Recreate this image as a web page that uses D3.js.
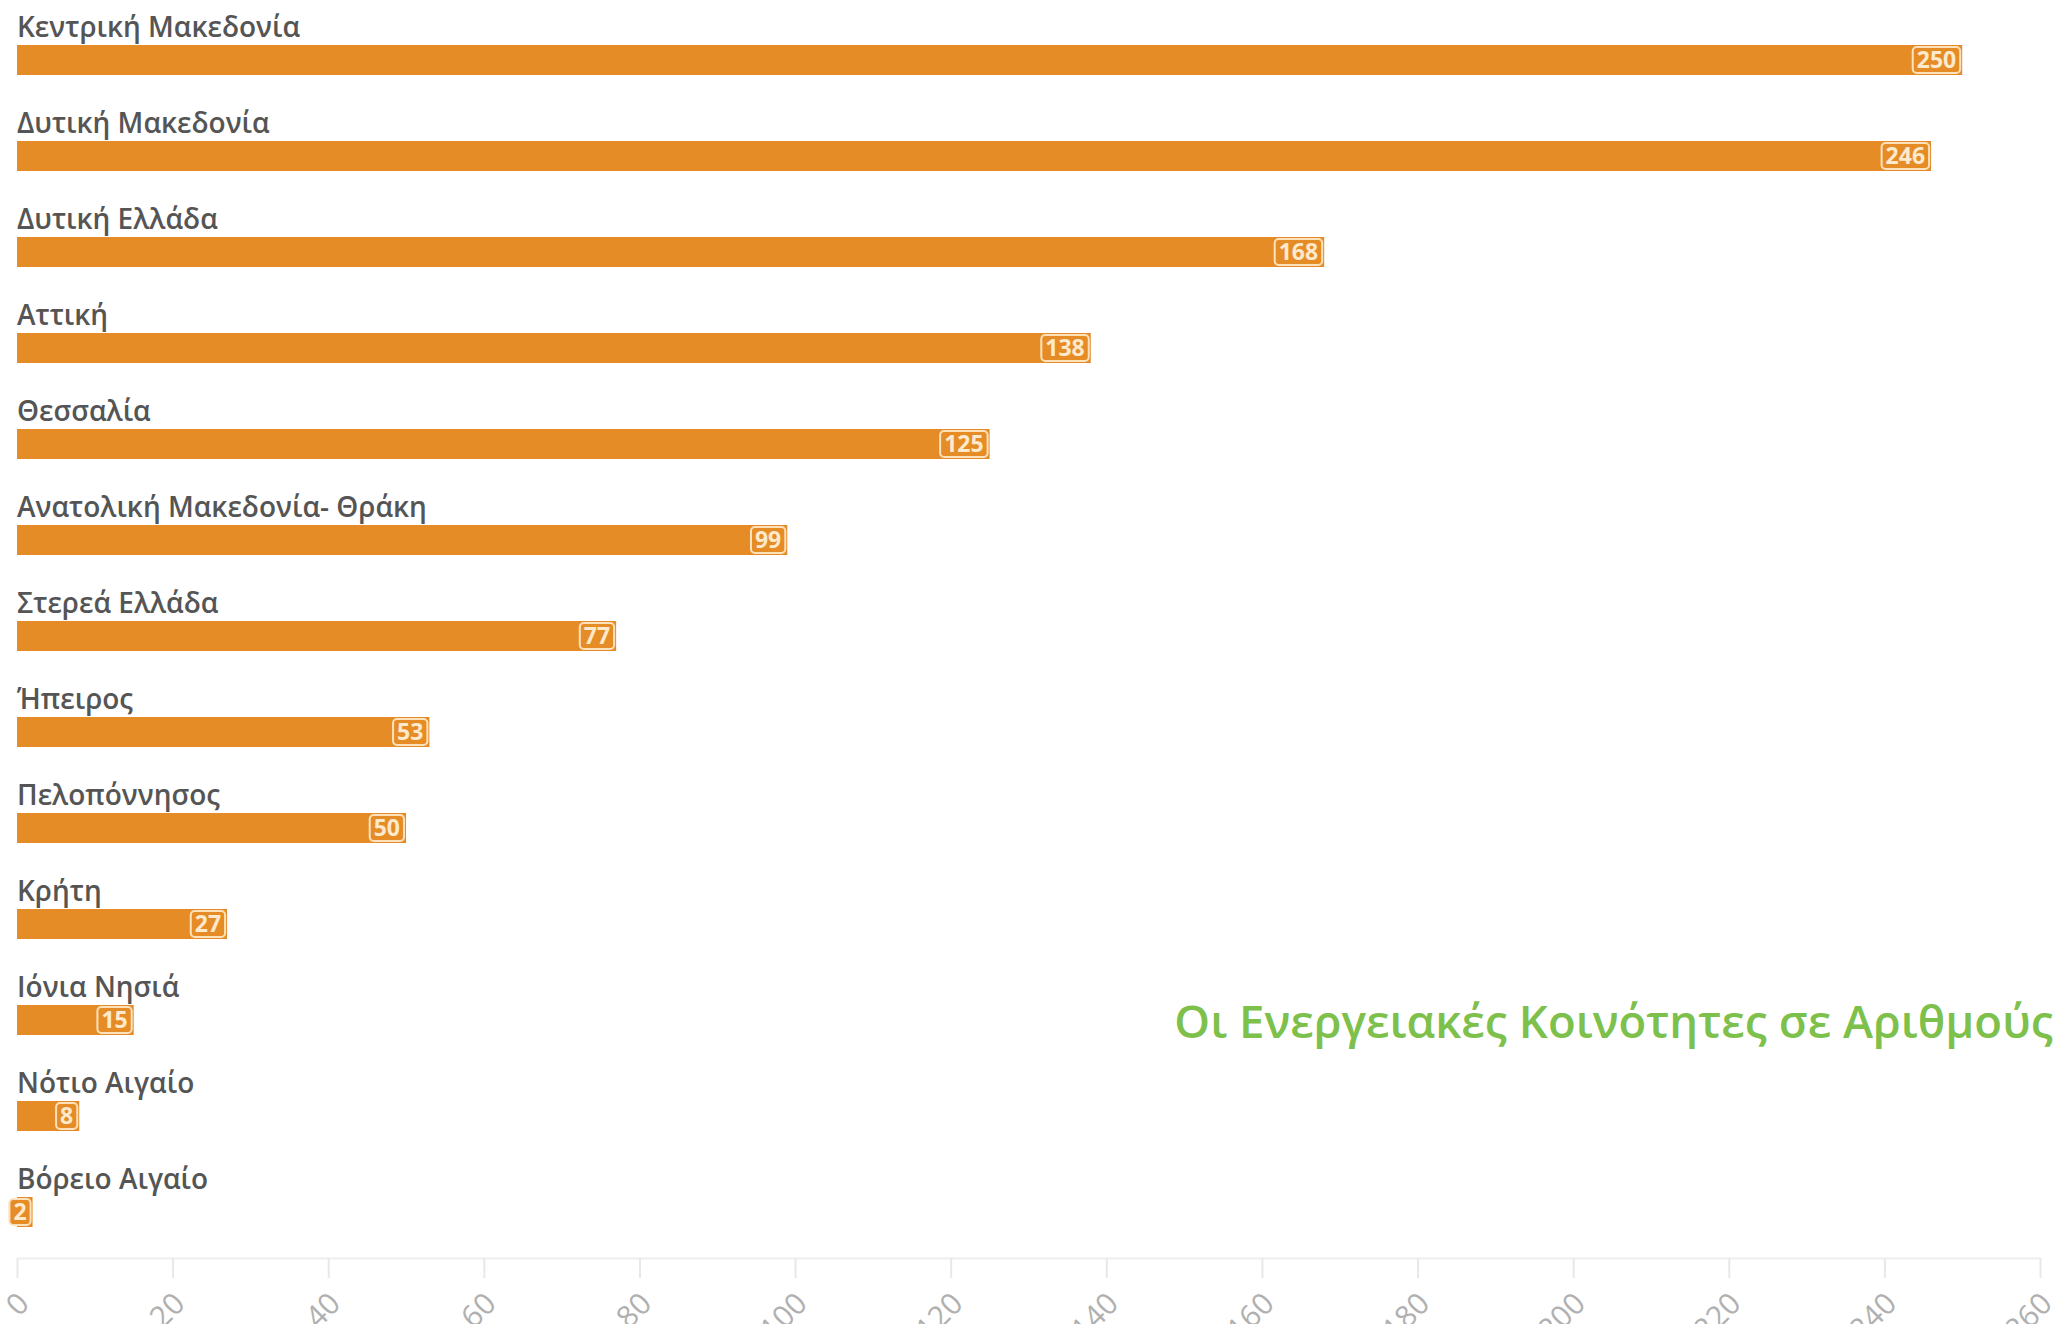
<!DOCTYPE html>
<html>
<head>
<meta charset="utf-8">
<script src="https://cdn.jsdelivr.net/npm/d3@7"></script>
<style>
  html, body { margin: 0; padding: 0; background: #fff; }
  svg { display: block; }
</style>
</head>
<body>
<svg id="chart" width="2070" height="1324"></svg>
<script>
// data
const regions = [
  'Κεντρική Μακεδονία',
  'Δυτική Μακεδονία',
  'Δυτική Ελλάδα',
  'Αττική',
  'Θεσσαλία',
  'Ανατολική Μακεδονία- Θράκη',
  'Στερεά Ελλάδα',
  'Ήπειρος',
  'Πελοπόννησος',
  'Κρήτη',
  'Ιόνια Νησιά',
  'Νότιο Αιγαίο',
  'Βόρειο Αιγαίο',
];
const communities = [250, 246, 168, 138, 125, 99, 77, 53, 50, 27, 15, 8, 2];
const xTicks = [0, 20, 40, 60, 80, 100, 120, 140, 160, 180, 200, 220, 240, 260];
const title = 'Οι Ενεργειακές Κοινότητες σε Αριθμούς';

const svg = d3.select('#chart');
const barColor = '#e68c27';

const x = d3.scaleLinear().domain([0, 260]).range([17, 2040]);
const y = d3
  .scaleBand()
  .domain(regions)
  .range([45, 1227])
  .paddingInner(0.6875)
  .paddingOuter(0);

const rows = regions.map((name, i) => ({ name, value: communities[i] }));

// bars
const bars = svg.append('g').attr('class', 'bars');
bars
  .selectAll('rect')
  .data(rows)
  .join('rect')
  .attr('x', x(0))
  .attr('y', (d) => y(d.name))
  .attr('width', (d) => x(d.value) - x(0))
  .attr('height', y.bandwidth())
  .attr('fill', barColor);

// category labels above each bar
svg
  .append('g')
  .selectAll('text')
  .data(rows)
  .join('text')
  .attr('x', x(0))
  .attr('y', (d) => y(d.name) - 8)
  .attr('font-family', 'Open Sans, sans-serif')
  .attr('font-size', 28)
  .attr('font-weight', 600)
  .attr('fill', '#555555')
  .text((d) => d.name);

// value tags at the end of the bars
const tags = svg.append('g').attr('class', 'tags');
rows.forEach((d) => {
  const g = tags.append('g');
  const t = g
    .append('text')
    .attr('font-family', 'Open Sans, sans-serif')
    .attr('font-size', 23)
    .attr('font-weight', 700)
    .attr('fill', '#fde9cc')
    .attr('text-anchor', 'end')
    .attr('dy', '0.36em')
    .text(d.value);
  const w = t.node().getComputedTextLength() + 8;
  const right = x(d.value) - 2;
  const top = y(d.name) + 2;
  g.insert('rect', 'text')
    .attr('x', right - w)
    .attr('y', top)
    .attr('width', w)
    .attr('height', y.bandwidth() - 4)
    .attr('rx', 4)
    .attr('fill', barColor)
    .attr('stroke', '#fbe2bd')
    .attr('stroke-width', 2);
  t.attr('x', right - 4).attr('y', y(d.name) + y.bandwidth() / 2);
});

// x axis
const axis = svg
  .append('g')
  .attr('transform', 'translate(0,1258)')
  .call(d3.axisBottom(x).tickValues(xTicks).tickSize(20).tickSizeOuter(0));
axis.select('.domain').attr('stroke', '#eeeeee').attr('stroke-width', 2);
axis.selectAll('.tick line').attr('stroke', '#e8e8e8').attr('stroke-width', 2);
axis
  .selectAll('.tick text')
  .attr('font-family', 'Open Sans, sans-serif')
  .attr('font-size', 30)
  .attr('fill', '#b0b0b0')
  .attr('text-anchor', 'end')
  .attr('x', 0)
  .attr('y', 0)
  .attr('dy', '0.35em')
  .attr('transform', 'translate(6,40) rotate(-45)');

// title
svg
  .append('text')
  .attr('x', 2053)
  .attr('y', 1038)
  .attr('text-anchor', 'end')
  .attr('font-family', 'Open Sans, sans-serif')
  .attr('font-size', 45.5)
  .attr('font-weight', 600)
  .attr('fill', '#7dc04b')
  .text(title);
</script>
</body>
</html>
